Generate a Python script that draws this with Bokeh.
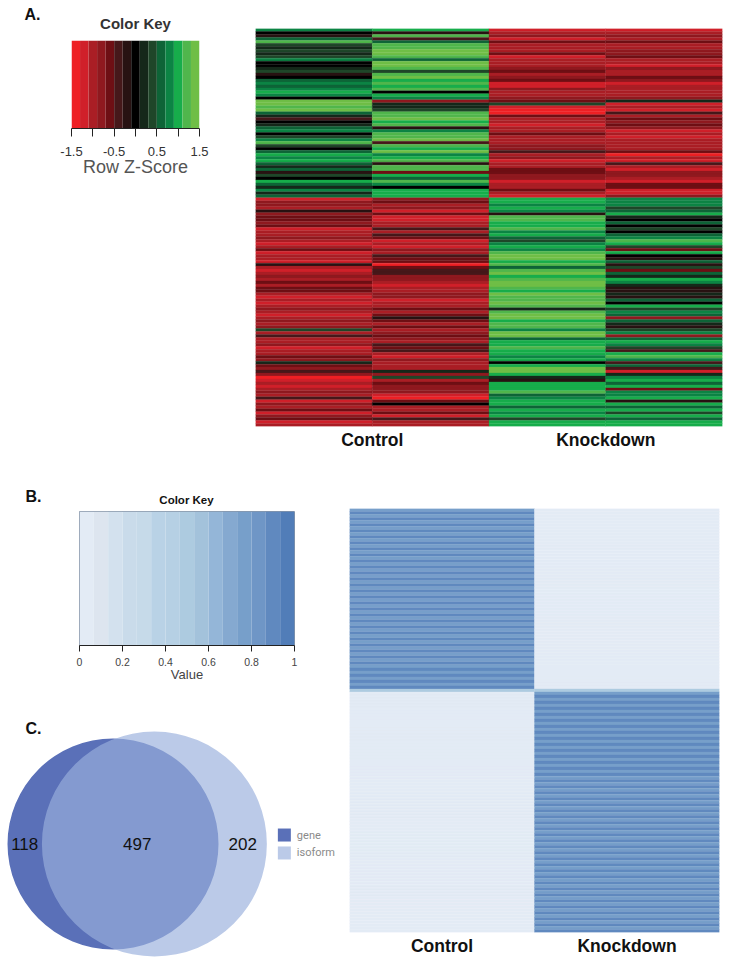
import math
import numpy as np
from bokeh.plotting import figure
from bokeh.layouts import row, column
from bokeh.models import Range1d, FixedTicker, Label, ColumnDataSource
from bokeh.core.properties import value
from bokeh.embed import file_html
from bokeh.resources import INLINE

# ---- Panel A: expression levels, in steps of 0.2 row z-score (-7 .. 7)
a_control1_top = [4,0,-1,3,6,2,1,2,1,2,4,0,0,1,2,-1,0,3,4,3,4,5,4,0,7,7,6,7,3,1,-2,0,1,3,4,0,2,4,6,2,0,3,5,4,5,3,1,3,-1,2,0,5,3,1,4,1,3]
a_control2_top = [5,-1,6,-2,3,6,6,7,7,6,3,7,7,6,2,6,7,5,6,5,6,0,5,4,-4,1,1,2,6,6,7,5,6,-1,4,6,6,7,-2,6,5,7,4,5,6,-1,6,6,-3,5,3,6,4,0,5,5,5]
a_knock1_top = [-6,-5,-4,-6,-3,-5,-5,-5,-3,-6,-5,-5,-5,-4,-3,-5,-4,-3,-6,-6,-4,-5,-5,-4,-3,2,-6,-7,-7,-3,-5,-5,-6,-5,-5,-3,-5,-5,-5,-4,-4,-2,-5,-4,-6,-5,-5,-3,-3,-4,-4,-6,-5,-5,-3,-5,-6]
a_knock2_top = [-6,-5,-4,-5,-3,-5,-5,-4,-4,-3,-5,-5,-6,-4,-5,-5,-3,-4,-6,-5,-5,-5,-5,-4,1,-6,-5,-6,-2,-5,-3,-4,-3,-4,-6,-5,-6,-5,-5,-5,-5,-3,-7,-5,-6,-2,-5,-6,-4,-4,-5,-6,-3,-3,-6,-6,-4]
a_control1_bot = [-6,-4,-4,-5,-1,-4,-3,-3,-4,-3,-6,-5,-5,-4,-5,-6,-5,-3,-6,-5,-5,-6,-1,-5,-6,-5,-4,-5,-3,-5,-3,-3,-5,-6,-5,-6,-5,-4,-5,-6,-5,-4,-5,-4,2,-5,-2,-5,-5,-4,-6,-5,-5,-3,-4,1,-3,-4,-2,-4,-7,-6,-5,-6,-5,-4,-5,-2,-6,-4,-5,-3,-6,-4,-3,-6,-5]
a_control2_bot = [-4,-3,-5,-4,-6,-3,-6,-6,-5,-5,-2,-5,-2,-3,-6,-5,-6,-4,-5,-2,-3,-3,-7,-3,-2,-2,-4,-4,-5,-6,-5,-5,-4,-4,-6,-5,-5,-3,-5,-3,-1,-3,-5,-3,-5,-4,-3,-4,-5,-2,-3,-2,-5,-6,-4,-5,-5,-5,1,-4,2,-5,-3,-4,-4,-4,-6,-7,-3,0,-5,-5,-3,-6,-2,-5,-5]
a_knock1_bot = [5,5,4,5,4,-1,6,6,5,5,6,4,5,3,2,4,5,4,6,7,7,5,6,3,6,7,5,6,7,7,6,5,7,6,6,7,6,1,6,7,7,5,6,6,4,7,7,3,5,5,6,5,5,4,5,0,5,7,7,5,1,-1,5,5,5,6,3,4,5,5,3,5,4,5,2,5,5]
a_knock2_bot = [4,4,4,2,3,5,1,0,3,0,2,0,3,4,6,5,2,-3,5,0,-1,3,-1,2,-3,3,1,5,4,1,-1,-1,1,-1,3,0,5,2,4,3,-4,3,1,-1,2,4,-4,3,5,4,2,-2,5,6,4,-2,3,-2,-6,1,4,5,3,5,-3,4,4,5,-1,5,3,5,2,5,3,5,5]
a_groups = ["Control", "Knockdown"]
key_a_ticks = [-1.5, -1.0, -0.5, 0.0, 0.5, 1.0, 1.5]
key_a_labels = {-1.5: "-1.5", -1.0: " ", -0.5: "-0.5", 0.0: " ", 0.5: "0.5", 1.0: " ", 1.5: "1.5"}
key_a_colors = ["#ee2024","#d0202a","#aa1e25","#8f191f","#6e0f14","#46181a","#281212","#000000",
                "#15281a","#1f4629","#0e6437","#0c8444","#17ad4b","#50b64c","#6fbe46"]

# ---- Panel B: values per row
b_control = [0.78,0.93,0.78,0.93,0.78,0.93,0.78,0.93,0.78,0.93,0.78,0.93,0.78,0.93,0.78,0.93,0.78,0.93,0.78,0.93,
             0.78,0.93,0.78,0.93,0.78,0.93,0.78,0.93,0.78,0.93,0.78,0.93,0.78,0.93,0.78,0.93,0.78,0.93,0.78,0.93,
             0.78,0.93,0.78,0.93,0.78,0.93,0.78,0.93,0.78,0.93,0.78,0.93,0.78,0.93,0.78,0.93,0.78,0.93,0.78,0.93,
             0.48,
             0,0,0,0,0,0,0,0,0,0,0,0,0,0,0,0,0,0,0,0,0,0,0,0,0,0,0,0,0,0,0,0,0,0,0,0,0,0,0,0,
             0,0,0,0,0,0,0,0,0,0,0,0,0,0,0,0,0,0,0,0,0,0,0,0,0,0,0,0,0,0,0,0,0,0,0,0,0,0,0,0]
b_knockdown = [0,0,0,0,0,0,0,0,0,0,0,0,0,0,0,0,0,0,0,0,0,0,0,0,0,0,0,0,0,0,
               0,0,0,0,0,0,0,0,0,0,0,0,0,0,0,0,0,0,0,0,0,0,0,0,0,0,0,0,0,0,
               0.48,
               0.78,0.93,0.78,0.93,0.78,0.93,0.78,0.93,0.78,0.93,0.78,0.93,0.78,0.93,0.78,0.93,0.78,0.93,0.78,0.93,
               0.78,0.93,0.78,0.93,0.78,0.93,0.78,0.93,0.78,0.93,0.78,0.93,0.78,0.93,0.78,0.93,0.78,0.93,0.78,0.93,
               0.78,0.93,0.78,0.93,0.78,0.93,0.78,0.93,0.78,0.93,0.78,0.93,0.78,0.93,0.78,0.93,0.78,0.93,0.78,0.93,
               0.78,0.93,0.78,0.93,0.78,0.93,0.78,0.93,0.78,0.93,0.78,0.93,0.78,0.93,0.78,0.93,0.78,0.93,0.78,0.93]
b_groups = ["Control", "Knockdown"]
key_b_ticks = [0, 0.2, 0.4, 0.6, 0.8, 1]
key_b_colors = ["#e3ebf5","#dde5ef","#d3e1ee","#c9dbea","#c6dae9","#b9d2e6","#b6d0e4","#adcbe0",
                "#a3c2db","#94b6d8","#85a9d0","#779fca","#6f96c6","#6089bf","#517db8"]

# ---- Panel C: overlap counts
venn_gene_only = 118
venn_both = 497
venn_isoform_only = 202
venn_names = ["gene", "isoform"]

FONT = "Liberation Sans"


def base_fig(w, h, left, right, top, bottom, xr, yr):
    p = figure(width=w, height=h, x_range=xr, y_range=yr, toolbar_location=None,
               output_backend="svg", min_border_left=left, min_border_right=right,
               min_border_top=top, min_border_bottom=bottom)
    p.grid.visible = False
    p.outline_line_color = None
    p.yaxis.visible = False
    p.background_fill_color = None
    p.border_fill_color = None
    return p


def heat_columns(p, cols, colors_of):
    for i, c in enumerate(cols):
        n = len(c)
        src = ColumnDataSource(dict(
            left=[i] * n, right=[i + 1] * n,
            top=list(range(n)), bottom=[r + 1 for r in range(n)],
            color=[colors_of(v) for v in c]))
        p.quad(left="left", right="right", top="top", bottom="bottom", source=src,
               fill_color="color", line_color="color", line_width=0.3)


def group_axis(p, names, every):
    p.xaxis.ticker = FixedTicker(ticks=[every * (2 * i + 1) for i in range(len(names))])
    p.xaxis.major_label_overrides = {every * (2 * i + 1): n for i, n in enumerate(names)}
    p.xaxis.axis_line_color = None
    p.xaxis.major_tick_line_color = None
    p.xaxis.minor_tick_line_color = None
    p.xaxis.major_tick_out = 0
    p.xaxis.major_tick_in = 0
    p.xaxis.major_label_text_font = FONT
    p.xaxis.major_label_text_font_style = "bold"
    p.xaxis.major_label_text_font_size = "17.5px"
    p.xaxis.major_label_text_color = "#111111"
    p.xaxis.major_label_standoff = 3


def key_fig(w, h, left, right, top, bottom, colors, lo, hi):
    p = base_fig(w, h, left, right, top, bottom, Range1d(lo, hi), Range1d(0, 1))
    edges = np.linspace(lo, hi, len(colors) + 1)
    p.quad(left=edges[:-1], right=edges[1:], bottom=0, top=1, fill_color=colors, line_color=None)
    p.xaxis.minor_tick_line_color = None
    p.xaxis.major_tick_in = 0
    p.xaxis.axis_line_color = "#222222"
    p.xaxis.major_tick_line_color = "#222222"
    p.xaxis.major_label_text_font = FONT
    p.xaxis.axis_label_text_font = FONT
    p.xaxis.axis_label_text_font_style = "normal"
    return p


def note(p, text, x, y, size, color, align="left"):
    # x, y are screen offsets from the frame's lower-left corner
    p.add_layout(Label(x=x, y=y, x_units="screen", y_units="screen", text=text, text_align=align,
                       text_baseline="alphabetic", text_font=FONT, text_font_style="bold",
                       text_font_size=size, text_color=color))


def heading_fig(w, h):
    p = base_fig(w, h, 0, 0, 0, 0, Range1d(0, w), Range1d(0, h))
    p.xaxis.visible = False
    return p


# ---- Panel A headings and colour key
head_a = heading_fig(245, 40)
note(head_a, "A.", 24, 26, "16px", "#111111")
note(head_a, "Color Key", 135, 17, "15px", "#333333", "center")

key_a = key_fig(245, 417, 71, 46, 0, 329, key_a_colors, -1.5, 1.5)
key_a.xaxis.ticker = FixedTicker(ticks=key_a_ticks)
key_a.xaxis.major_label_overrides = key_a_labels
key_a.xaxis.major_tick_out = 8
key_a.xaxis.major_label_standoff = 7
key_a.xaxis.major_label_text_font_size = "13px"
key_a.xaxis.major_label_text_color = "#333333"
key_a.xaxis.axis_label = "Row Z-Score"
key_a.xaxis.axis_label_text_font_size = "18px"
key_a.xaxis.axis_label_text_color = "#555555"
key_a.xaxis.axis_label_standoff = -5

# ---- Panel A heat map
cols_a = [a_control1_top + a_control1_bot, a_control2_top + a_control2_bot,
          a_knock1_top + a_knock1_bot, a_knock2_top + a_knock2_bot]
heat_a = base_fig(484, 457, 10, 7, 28, 31, Range1d(0, 4), Range1d(len(cols_a[0]), 0))
heat_columns(heat_a, cols_a, lambda v: key_a_colors[v + 7])
group_axis(heat_a, a_groups, 1)

# ---- Panel B headings and colour key
head_b = heading_fig(340, 53)
note(head_b, "B.", 25, 14, "16px", "#111111")
note(head_b, "Color Key", 186, 11, "11.5px", "#111111", "center")

key_b = key_fig(340, 205, 79, 46, 1, 70, key_b_colors, 0, 1)
key_b.outline_line_color = "#8796a8"
key_b.xaxis.ticker = FixedTicker(ticks=key_b_ticks)
key_b.xaxis.major_label_overrides = {t: str(t) for t in key_b_ticks}
key_b.xaxis.major_tick_out = 6
key_b.xaxis.major_label_standoff = 6
key_b.xaxis.major_label_text_font_size = "10.5px"
key_b.xaxis.major_label_text_color = "#444444"
key_b.xaxis.axis_label = "Value"
key_b.xaxis.axis_label_text_font_size = "13px"
key_b.xaxis.axis_label_text_color = "#444444"
key_b.xaxis.axis_label_standoff = -2

# ---- Panel B heat map
cols_b = [b_control, b_knockdown]
heat_b = base_fig(389, 506, 9, 10, 51, 31, Range1d(0, 2), Range1d(len(b_control), 0))
heat_columns(heat_b, cols_b, lambda v: key_b_colors[int(round(v * 14))])
group_axis(heat_b, b_groups, 0.5)

# ---- Panel C venn: areas follow the counts
size_gene = venn_gene_only + venn_both
size_iso = venn_isoform_only + venn_both
r_gene = math.sqrt(size_gene / math.pi)
r_iso = math.sqrt(size_iso / math.pi)


def lens(d):
    a = r_gene ** 2 * math.acos((d * d + r_gene ** 2 - r_iso ** 2) / (2 * d * r_gene))
    b = r_iso ** 2 * math.acos((d * d + r_iso ** 2 - r_gene ** 2) / (2 * d * r_iso))
    c = 0.5 * math.sqrt((-d + r_gene + r_iso) * (d + r_gene - r_iso) * (d - r_gene + r_iso) * (d + r_gene + r_iso))
    return a + b - c


d_lo, d_hi = r_iso - r_gene + 1e-6, r_gene + r_iso - 1e-6
for _ in range(60):
    d_mid = (d_lo + d_hi) / 2
    if lens(d_mid) > venn_both:
        d_lo = d_mid
    else:
        d_hi = d_mid
dist = (d_lo + d_hi) / 2

px = 105.5 / r_gene          # screen pixels per data unit
venn_w, venn_h = 340, 248
x0 = -112.5 / px
y0 = -(963 - 843.5) / px
venn = base_fig(venn_w, venn_h, 0, 0, 0, 0,
                Range1d(x0, x0 + venn_w / px), Range1d(y0, y0 + venn_h / px))
venn.xaxis.visible = False
venn.circle(x=[0], y=[0], radius=r_gene, fill_color="#5a70b8", line_color=None)
venn.circle(x=[dist], y=[0], radius=r_iso, fill_color="#99afdc", fill_alpha=0.667, line_color=None)
left_edge, lens_left = -r_gene, dist - r_iso
lens_right, right_edge = r_gene, dist + r_iso
venn.text(x=[(left_edge + lens_left) / 2, (left_edge + right_edge) / 2, (lens_right + right_edge) / 2],
          y=[0, 0, 0], text=[str(venn_gene_only), str(venn_both), str(venn_isoform_only)],
          text_align="center", text_baseline="middle", text_font=value(FONT),
          text_font_size="17px", text_color="#111111")
legend_x = right_edge + 2.32
legend_dy = 1.19
venn.scatter(x=[legend_x, legend_x], y=[legend_dy, -legend_dy], marker="square", size=13,
             fill_color=["#5a70b8", "#bbcae8"], line_color=None)
venn.text(x=[legend_x + 1.66, legend_x + 1.66], y=[legend_dy, -legend_dy], text=venn_names,
          text_baseline="middle", text_font=value("Roboto"), text_font_size="11px", text_color="#8a8a8a")
note(venn, "C.", 25, 235, "16px", "#111111")

page = column(row(column(row(head_a), row(key_a)), column(heat_a)),
              row(column(row(head_b), row(key_b), row(venn)), column(heat_b)))
open("out.html", "w").write(file_html(page, INLINE))
